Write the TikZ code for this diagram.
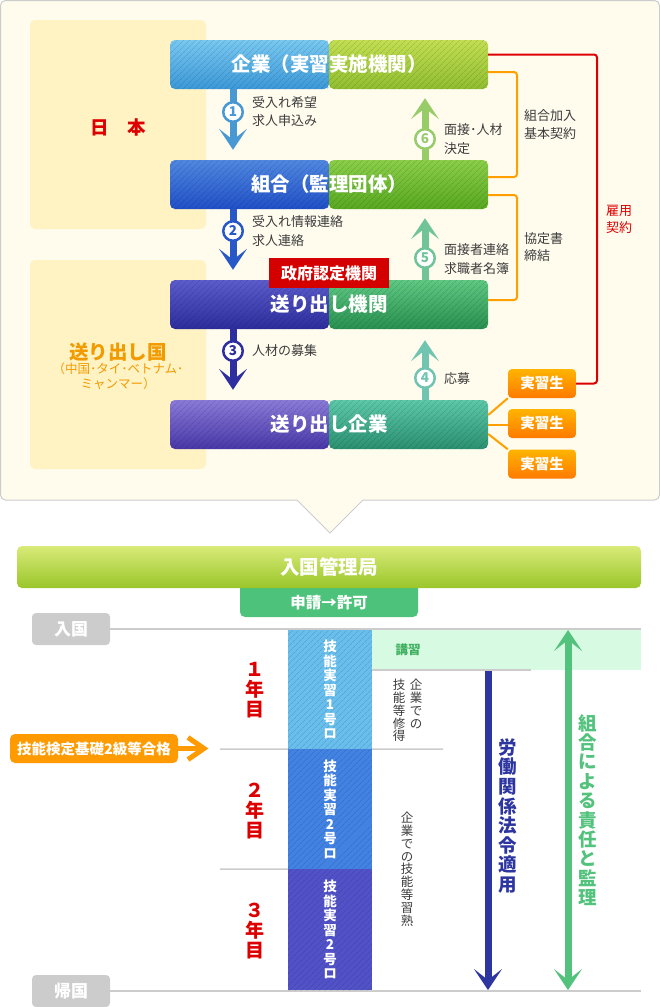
\documentclass[tikz,border=0pt]{standalone}
\usepackage{fontspec}
\setmainfont{Noto Sans CJK JP}
\usetikzlibrary{arrows.meta,patterns.meta}
\newcommand\myfs[2]{\fontsize{#1pt}{#2pt}\selectfont}
\definecolor{panelbg}{HTML}{FFFCEE}
\definecolor{panelln}{HTML}{CCCCCC}
\definecolor{regbg}{HTML}{FFF3C4}
\definecolor{jpred}{HTML}{DD0000}
\definecolor{orng}{HTML}{F29B00}
\definecolor{lblgray}{HTML}{3C3C3C}
\definecolor{aA}{HTML}{78C8F0}\definecolor{aB}{HTML}{3C98D8}
\definecolor{aC}{HTML}{C2DE52}\definecolor{aD}{HTML}{90BE30}
\definecolor{bA}{HTML}{5088E0}\definecolor{bB}{HTML}{2050C8}
\definecolor{bC}{HTML}{8ACE4A}\definecolor{bD}{HTML}{58A820}
\definecolor{cA}{HTML}{5C5CCC}\definecolor{cB}{HTML}{2C2C9C}
\definecolor{cC}{HTML}{5EC882}\definecolor{cD}{HTML}{289050}
\definecolor{dA}{HTML}{8A7AD8}\definecolor{dB}{HTML}{4838A8}
\definecolor{dC}{HTML}{5CC8A8}\definecolor{dD}{HTML}{2A9070}
\definecolor{ar1}{HTML}{4898D4}
\definecolor{ar2}{HTML}{2858C8}
\definecolor{ar3}{HTML}{2E2EA0}
\definecolor{ar6}{HTML}{98CC68}
\definecolor{ar5}{HTML}{70C498}
\definecolor{ar4}{HTML}{70C4B0}
\definecolor{olin}{HTML}{FFA000}
\definecolor{rlin}{HTML}{DD0000}
\definecolor{trA}{HTML}{FFB400}\definecolor{trB}{HTML}{FF7A00}
\definecolor{tagred}{HTML}{D40000}
\definecolor{imA}{HTML}{D8EA78}\definecolor{imB}{HTML}{9AC62A}
\definecolor{tabgreen}{HTML}{4CC27A}
\definecolor{graybox}{HTML}{CCCCCC}
\definecolor{kosyubg}{HTML}{D6FAE2}
\definecolor{kosyutx}{HTML}{40B060}
\definecolor{sgA}{HTML}{68BEEC}
\definecolor{sgB}{HTML}{4282E2}
\definecolor{sgC}{HTML}{5252C8}
\definecolor{lawblue}{HTML}{2D35A0}
\definecolor{supgreen}{HTML}{52C27C}
\definecolor{callorange}{HTML}{FF9A00}
\begin{document}
\begin{tikzpicture}[x=1pt,y=-1pt,
  bigtip/.tip={Stealth[length=21pt,width=28pt,inset=11pt,line width=0pt]},
  hatchfill/.style={pattern={Lines[angle=45,distance=4pt,line width=0.8pt]},pattern color=black,fill opacity=0.12},
  mainbox/.style={minimum width=318pt,minimum height=49pt,inner sep=0pt,text=white,font=\myfs{19.5}{21}\bfseries},
  splitbox/.style n args={4}{mainbox,rounded corners=5pt,path picture={
     \shade[top color=#1,bottom color=#2] (path picture bounding box.north west) rectangle (path picture bounding box.south);
     \shade[top color=#3,bottom color=#4] (path picture bounding box.north) rectangle (path picture bounding box.south east);
     \fill[hatchfill] (path picture bounding box.north west) rectangle (path picture bounding box.south east);}},
  lbl/.style={anchor=west,align=left,text=lblgray,font=\myfs{13}{18.5},inner sep=0pt},
  numc/.style={circle,draw=#1,fill=white,line width=2.5pt,text=#1,font=\myfs{13.5}{14}\bfseries,minimum size=19.5pt,inner sep=0pt},
  dnarrow/.style={draw=#1,line width=7pt,-bigtip},
  oline/.style={draw=olin,line width=2pt,rounded corners=3pt},
  rline/.style={draw=rlin,line width=2pt,rounded corners=3pt},
  trainee/.style={rounded corners=4pt,top color=trA,bottom color=trB,text=white,font=\myfs{14.5}{15}\bfseries,minimum width=68pt,minimum height=29pt,inner sep=0pt},
  graynode/.style={rounded corners=4pt,fill=graybox,text=white,font=\myfs{17}{18}\bfseries,minimum width=78pt,minimum height=32pt,inner sep=0pt},
  tline/.style={draw=graybox,line width=2pt},
  sline/.style={draw=graybox,line width=1.5pt},
  seg/.style={fill=#1,minimum width=84pt,inner sep=0pt,text=white,align=center,font=\myfs{13.5}{14.5}\bfseries,
     path picture={\fill[hatchfill] (path picture bounding box.north west) rectangle (path picture bounding box.south east);}},
  year/.style={text=jpred,align=center,font=\myfs{19}{20}\bfseries,inner sep=0pt},
  vtxt/.style={align=center,inner sep=0pt,text=lblgray,font=\myfs{12.5}{12.8}}
]
\useasboundingbox (0,0) rectangle (660,1007);
% ---------- top panel
\draw[draw=panelln,fill=panelbg,line width=1pt] (330,533) -- (297,500) [rounded corners=5pt] -- (0.5,500) -- (0.5,0.5) -- (659.5,0.5) -- (659.5,500) [sharp corners] -- (363,500) -- cycle;
\fill[regbg,rounded corners=5pt] (30,20) rectangle (206,229);
\fill[regbg,rounded corners=5pt] (30,260) rectangle (206,469);
\node[text=jpred,font=\myfs{18.5}{20}\bfseries] (jp) at (118,127) {日　本};
\node[text=orng,font=\myfs{19.5}{20}\bfseries] (ok) at (118,352) {送り出し国};
\node[text=orng,font=\myfs{12.5}{15},align=center,inner sep=0pt] (oks) at (118,376) {（中国･タイ･ベトナム･\\ミャンマー）};

% main boxes
\node[splitbox={aA}{aB}{aC}{aD}] (b1) at (329,64.5) {企業（実習実施機関）};
\node[splitbox={bA}{bB}{bC}{bD}] (b2) at (329,184.5) {組合（監理団体）};
\node[splitbox={cA}{cB}{cC}{cD}] (b3) at (329,304.5) {送り出し機関};
\node[splitbox={dA}{dB}{dC}{dD}] (b4) at (329,424.5) {送り出し企業};
\node[fill=tagred,text=white,font=\myfs{16}{17}\bfseries,minimum width=120pt,minimum height=30pt,inner sep=0pt] (tag) at (329,273) {政府認定機関};

% vertical arrows
\coordinate (ax) at (233,0);
\coordinate (ux) at (425,0);
\draw[dnarrow=ar1,shorten >=10pt] (b1.south -| ax) -- (b2.north -| ax);
\draw[dnarrow=ar2,shorten >=10pt] (b2.south -| ax) -- (b3.north -| ax);
\draw[dnarrow=ar3,shorten >=10pt] (b3.south -| ax) -- (b4.north -| ax);
\draw[dnarrow=ar6,shorten >=9pt] (b2.north -| ux) -- (b1.south -| ux);
\draw[dnarrow=ar5,shorten >=9pt] (b3.north -| ux) -- (b2.south -| ux);
\draw[dnarrow=ar4,shorten >=11pt] (b4.north -| ux) -- (b3.south -| ux);
\node[numc=ar1] (n1) at (233,112) {1};
\node[numc=ar2] (n2) at (233,231) {2};
\node[numc=ar3] (n3) at (233,351) {3};
\node[numc=ar6] (n6) at (425,139) {6};
\node[numc=ar5] (n5) at (425,258) {5};
\node[numc=ar4] (n4) at (425,378) {4};
\node[lbl] (l1) at (252,111.5) {受入れ希望\\求人申込み};
\node[lbl] (l2) at (252,231) {受入れ情報連絡\\求人連絡};
\node[lbl] (l3) at (252,351) {人材の募集};
\node[lbl] (l6) at (444,139) {面接･人材\\決定};
\node[lbl] (l5) at (444,259) {面接者連絡\\求職者名簿};
\node[lbl] (l4) at (444,379) {応募};

% trainees
\node[trainee] (s1) at (542,383.5) {実習生};
\node[trainee] (s2) at (542,423.5) {実習生};
\node[trainee] (s3) at (542,464) {実習生};
\draw[oline] ([yshift=9.5pt]b4.east) -- (s1.south west);
\draw[oline] (b4.east) -- (b4.east -| s2.west);
\draw[oline] ([yshift=-9.5pt]b4.east) -- (s3.north west);

% brackets
\coordinate (oa) at (517,72);
\coordinate (ob) at (517,177);
\coordinate (oc) at (517,195);
\coordinate (od) at (517,300);
\draw[oline] (b1.east |- oa) -- (oa) -- (ob) -- (b2.east |- ob);
\draw[oline] (b2.east |- oc) -- (oc) -- (od) -- (b3.east |- od);
\coordinate (ra) at (597,54.5);
\coordinate (rb) at (597,383.5);
\draw[rline] (b1.east |- ra) -- (ra) -- (rb) -- (s1.east);
\node[lbl,font=\myfs{13}{18}] (kb) at (524,125) {組合加入\\基本契約};
\node[lbl,font=\myfs{13}{17}] (kt) at (524,247) {協定書\\締結};
\node[lbl,font=\myfs{13}{17},text=jpred] (kk) at (606,219.5) {雇用\\契約};

% ---------- bottom part
\fill[tabgreen,rounded corners=5pt] (240,575) rectangle (418,617);
\node[rounded corners=5pt,top color=imA,bottom color=imB,text=white,font=\myfs{19.5}{20}\bfseries,minimum width=624pt,minimum height=42pt,inner sep=0pt] (imm) at (329,567) {入国管理局};
\node[text=white,font=\myfs{15.5}{16}\bfseries,inner sep=0pt] (app) at (329,603) {申請→許可};

\fill[kosyubg] (372,630) rectangle (641,670);
\node[text=kosyutx,font=\myfs{12.5}{13}\bfseries,inner sep=0pt] (ks) at (408,650) {講習};

\node[graynode] (nyu) at (71,629) {入国};
\node[graynode] (kik) at (71,991) {帰国};
\coordinate (t1) at (641,629);
\coordinate (t2) at (641,991);
\draw[tline] (nyu.east) -- (t1);
\draw[tline] (kik.east) -- (t2);

\node[seg=sgA,minimum height=119pt] (c1) at (330,689.5) {技\\能\\実\\習\\1\\号\\ロ};
\node[seg=sgB,minimum height=120pt] (c2) at (330,809) {技\\能\\実\\習\\2\\号\\ロ};
\node[seg=sgC,minimum height=121pt] (c3) at (330,929.5) {技\\能\\実\\習\\2\\号\\ロ};

\coordinate (sl1) at (220,749);
\coordinate (sl2) at (220,869);
\coordinate (sr1) at (531,670);
\coordinate (sr2) at (443,749);
\draw[sline] (sl1) -- (c1.south west);
\draw[sline] (sl2) -- (c2.south west);
\draw[sline] (c1.east |- sr1) -- (sr1);
\draw[sline] (c1.south east) -- (sr2);

\node[year] (y1) at (255,690) {１\\年\\目};
\node[year] (y2) at (255,811) {２\\年\\目};
\node[year] (y3) at (255,931) {３\\年\\目};

\node[vtxt,anchor=north] (v1) at (416,679) {企\\業\\で\\の};
\node[vtxt,anchor=north] (v2) at (399,679) {技\\能\\等\\修\\得};
\node[vtxt,anchor=north] (v3) at (407,812) {企\\業\\で\\の\\技\\能\\等\\習\\熟};

% big arrows
\coordinate (ba) at (488,671);
\coordinate (bb) at (488,990);
\draw[draw=lawblue,line width=7pt,-bigtip] (ba) -- (bb);
\node[align=center,inner sep=0pt,text=lawblue,font=\myfs{18.5}{19.6}\bfseries] (law) at (508,816) {労\\働\\関\\係\\法\\令\\適\\用};
\coordinate (ga) at (568,630);
\coordinate (gb) at (568,990);
\draw[draw=supgreen,line width=7pt,bigtip-bigtip] (ga) -- (gb);
\node[align=center,inner sep=0pt,text=supgreen,font=\myfs{18.5}{19.4}\bfseries] (sup) at (588,810) {組\\合\\に\\よ\\る\\責\\任\\と\\監\\理};

% callout
\node[rounded corners=5pt,fill=callorange,text=white,font=\myfs{14.5}{15}\bfseries,minimum width=168pt,minimum height=29pt,inner sep=0pt] (cb) at (94,748.5) {技能検定基礎2級等合格};
\coordinate (cp) at (204,748.5);
\draw[draw=callorange,line width=5pt] (cb.east) -- (cp);
\draw[draw=callorange,line width=5pt] ([xshift=-16pt,yshift=11pt]cp) -- (cp) -- ([xshift=-16pt,yshift=-11pt]cp);
\end{tikzpicture}
\end{document}
